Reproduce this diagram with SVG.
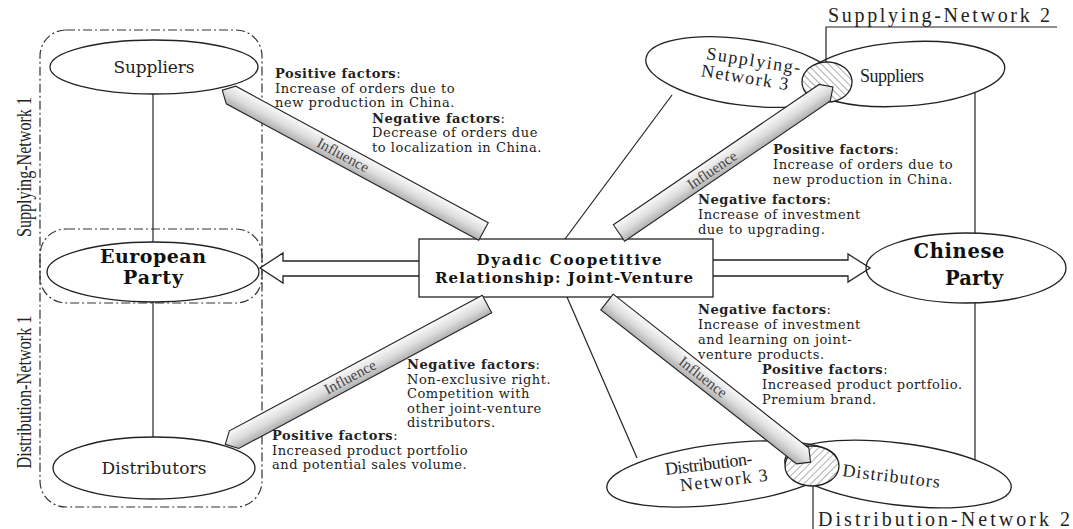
<svg xmlns="http://www.w3.org/2000/svg" width="1073" height="529" viewBox="0 0 1073 529">
<defs>
<style>
.ln{stroke:#222;stroke-width:1.2;fill:none}
.el{stroke:#222;stroke-width:1.3;fill:none}
.dd{stroke:#333;stroke-width:1.2;fill:none;stroke-dasharray:9 3 2 3}
.hol{stroke:#222;stroke-width:1.3;fill:#fff}
.inf{stroke:#222;stroke-width:1.1}
.b{font-family:"DejaVu Serif","Liberation Serif",serif;font-size:13px;letter-spacing:0.55px;fill:#222}
.hb{font-weight:bold}
.lbl{font-family:"DejaVu Serif","Liberation Serif",serif;font-size:17px;fill:#222}
.tl{font-family:"Liberation Serif","DejaVu Serif",serif;font-size:18px;fill:#222}
.big{font-family:"DejaVu Serif","Liberation Serif",serif;font-weight:bold;fill:#111}
.nw{font-family:"Liberation Serif","DejaVu Serif",serif;font-size:20px;fill:#222}
.side{font-family:"Liberation Serif","DejaVu Serif",serif;font-size:22px;fill:#222}
.infl{font-family:"Liberation Serif",serif;font-size:15px;fill:#444;text-anchor:middle}
</style>
<linearGradient id="gA" x1="0" y1="0" x2="0" y2="1">
<stop offset="0" stop-color="#fafafa"/><stop offset="0.55" stop-color="#dcdcdc"/><stop offset="1" stop-color="#b0b0b0"/>
</linearGradient>
<linearGradient id="gB" x1="0" y1="1" x2="0" y2="0">
<stop offset="0" stop-color="#fafafa"/><stop offset="0.55" stop-color="#dcdcdc"/><stop offset="1" stop-color="#b0b0b0"/>
</linearGradient>
<pattern id="hatchA" patternUnits="userSpaceOnUse" width="5" height="5" patternTransform="rotate(-45)">
<rect width="5" height="5" fill="#fff"/><line x1="0" y1="0" x2="0" y2="5" stroke="#999" stroke-width="1.6"/>
</pattern>
<pattern id="hatchB" patternUnits="userSpaceOnUse" width="5" height="5" patternTransform="rotate(45)">
<rect width="5" height="5" fill="#fff"/><line x1="0" y1="0" x2="0" y2="5" stroke="#999" stroke-width="1.6"/>
</pattern>
</defs>
<rect width="1073" height="529" fill="#fff"/>

<g id="containers">
<rect class="dd" x="40" y="30" width="222" height="273" rx="26"/>
<rect class="dd" x="40" y="229" width="222" height="278" rx="26"/>
<text class="side" transform="translate(31,167) rotate(-90)" text-anchor="middle" textLength="140" lengthAdjust="spacingAndGlyphs">Supplying-Network 1</text>
<text class="side" transform="translate(31,392) rotate(-90)" text-anchor="middle" textLength="153" lengthAdjust="spacingAndGlyphs">Distribution-Network 1</text>
</g>

<g id="connectors">
<line class="ln" x1="153" y1="94" x2="153" y2="242"/>
<line class="ln" x1="153" y1="302" x2="153" y2="437"/>
<line class="ln" x1="565" y1="239" x2="672" y2="95"/>
<line class="ln" x1="567" y1="297" x2="637" y2="458"/>
<line class="ln" x1="975" y1="93" x2="975" y2="233"/>
<line class="ln" x1="975" y1="303" x2="975" y2="460"/>
<path class="ln" d="M1057,27 H826 V77"/>
<line class="ln" x1="813" y1="473" x2="813" y2="529"/>
<path class="hol" d="M419,261 H283 V253 L260,268 L283,283 V276 H419"/>
<path class="hol" d="M713,260 H848 V254 L870,268 L848,282 V276 H713"/>
</g>

<g id="eu-suppliers">
<ellipse class="el" cx="154" cy="67" rx="104" ry="27" fill="#fff"/>
<text class="lbl" x="154" y="73" text-anchor="middle" textLength="81">Suppliers</text>
</g>
<g id="european-party">
<ellipse class="el" cx="153" cy="272" rx="106" ry="30"/>
<text class="big" font-size="19" x="153" y="263" text-anchor="middle" textLength="106">European</text>
<text class="big" font-size="19" x="153" y="284" text-anchor="middle" textLength="60">Party</text>
</g>
<g id="eu-distributors">
<ellipse class="el" cx="154" cy="468" rx="101" ry="31"/>
<text class="lbl" x="154" y="474" text-anchor="middle" textLength="105">Distributors</text>
</g>

<g id="joint-venture">
<rect x="419" y="239" width="294" height="58" fill="#fff" stroke="#222" stroke-width="1.3"/>
<text class="big" font-size="15" x="569" y="265" text-anchor="middle" textLength="185">Dyadic Coopetitive</text>
<text class="big" font-size="15" x="564" y="283" text-anchor="middle" textLength="258">Relationship: Joint-Venture</text>
</g>

<g id="chinese-party">
<ellipse class="el" cx="966" cy="268" rx="100" ry="35" fill="#fff"/>
<text class="big" font-size="19.5" x="959" y="258" text-anchor="middle" textLength="91">Chinese</text>
<text class="big" font-size="19.5" x="974" y="285" text-anchor="middle" textLength="58">Party</text>
</g>

<g id="supplying-network-3">
<ellipse class="el" cx="742" cy="72" rx="97" ry="33" transform="rotate(8 742 72)"/>
<g transform="rotate(9 750 70)">
<text class="tl" x="752" y="66" text-anchor="middle" textLength="95">Supplying-</text>
<text class="tl" x="746" y="84" text-anchor="middle" textLength="88">Network 3</text>
</g>
</g>
<g id="cn-suppliers">
<ellipse class="el" cx="905" cy="74" rx="100" ry="32" transform="rotate(-4 905 74)"/>
<text class="tl" font-size="17" x="892" y="82" text-anchor="middle" textLength="64">Suppliers</text>
</g>
<g id="supplying-network-2">
<ellipse cx="827" cy="82" rx="25" ry="20" fill="url(#hatchA)" stroke="#222" stroke-width="1.3"/>
<text class="nw" x="828" y="22" textLength="222" lengthAdjust="spacing">Supplying-Network 2</text>
</g>

<g id="distribution-network-3">
<ellipse class="el" cx="722" cy="474" rx="116" ry="30" transform="rotate(-7 722 474)"/>
<g transform="rotate(-7 715 475)">
<text class="tl" x="710" y="469" text-anchor="middle" textLength="88">Distribution-</text>
<text class="tl" x="723" y="487" text-anchor="middle" textLength="88">Network 3</text>
</g>
</g>
<g id="cn-distributors">
<ellipse class="el" cx="898" cy="474" rx="114" ry="31" transform="rotate(7 898 474)"/>
<text class="tl" x="891" y="482" text-anchor="middle" textLength="98" transform="rotate(7 891 478)">Distributors</text>
</g>
<g id="distribution-network-2">
<ellipse cx="812" cy="466" rx="27" ry="20" fill="url(#hatchB)" stroke="#222" stroke-width="1.3"/>
<text class="nw" x="818" y="526" textLength="252" lengthAdjust="spacing">Distribution-Network 2</text>
</g>

<g id="influence-arrows">
<path class="inf" fill="url(#gB)" transform="translate(483.5,231.5) rotate(208.4)" d="M0,-10 H287 L297,0 L287,10 H0 Z"/>
<text class="infl" transform="translate(343,155) rotate(28.4)" y="5">Influence</text>
<path class="inf" fill="url(#gB)" transform="translate(487,304) rotate(151.8)" d="M0,-10 H287 L297,0 L287,10 H0 Z"/>
<text class="infl" transform="translate(350,377) rotate(-28.2)" y="5">Influence</text>
<path class="inf" fill="url(#gA)" transform="translate(619,233) rotate(-34.3)" d="M0,-10 H249 L259,0 L249,10 H0 Z"/>
<text class="infl" transform="translate(712,170) rotate(-34.3)" y="5">Influence</text>
<path class="inf" fill="url(#gA)" transform="translate(607,302) rotate(38.2)" d="M0,-10 H249 L259,0 L249,10 H0 Z"/>
<text class="infl" transform="translate(703,377) rotate(38.2)" y="5">Influence</text>
</g>

<g id="factors">
<text class="b"><tspan x="275" y="78"><tspan class="hb">Positive factors</tspan>:</tspan><tspan x="275" y="93">Increase of orders due to</tspan><tspan x="275" y="107">new production in China.</tspan></text>
<text class="b"><tspan x="372" y="123"><tspan class="hb">Negative factors</tspan>:</tspan><tspan x="372" y="137">Decrease of orders due</tspan><tspan x="372" y="152">to localization in China.</tspan></text>
<text class="b"><tspan x="773" y="154"><tspan class="hb">Positive factors</tspan>:</tspan><tspan x="773" y="169">Increase of orders due to</tspan><tspan x="773" y="184">new production in China.</tspan></text>
<text class="b"><tspan x="698" y="204"><tspan class="hb">Negative factors</tspan>:</tspan><tspan x="698" y="219">Increase of investment</tspan><tspan x="698" y="234">due to upgrading.</tspan></text>
<text class="b"><tspan x="698" y="314"><tspan class="hb">Negative factors</tspan>:</tspan><tspan x="698" y="329">Increase of investment</tspan><tspan x="698" y="344">and learning on joint-</tspan><tspan x="698" y="359">venture products.</tspan></text>
<text class="b"><tspan x="762" y="374"><tspan class="hb">Positive factors</tspan>:</tspan><tspan x="762" y="389">Increased product portfolio.</tspan><tspan x="762" y="404">Premium brand.</tspan></text>
<text class="b"><tspan x="407" y="369"><tspan class="hb">Negative factors</tspan>:</tspan><tspan x="407" y="384">Non-exclusive right.</tspan><tspan x="407" y="398">Competition with</tspan><tspan x="407" y="413">other joint-venture</tspan><tspan x="407" y="427">distributors.</tspan></text>
<text class="b"><tspan x="272" y="440"><tspan class="hb">Positive factors</tspan>:</tspan><tspan x="272" y="455">Increased product portfolio</tspan><tspan x="272" y="469">and potential sales volume.</tspan></text>
</g>
</svg>
